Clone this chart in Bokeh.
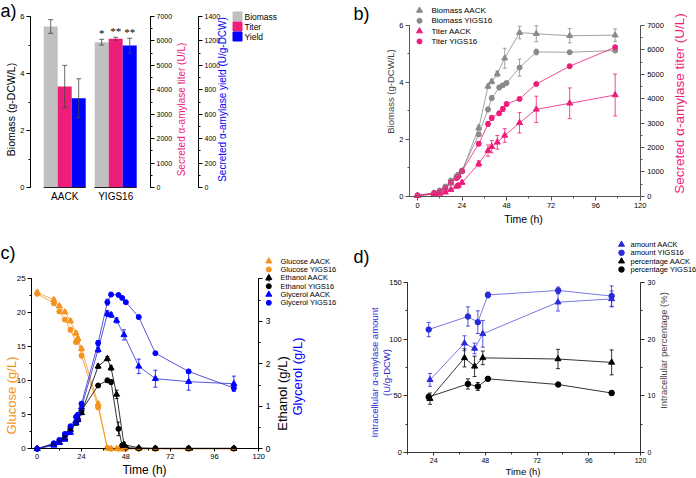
import numpy as np
from bokeh.plotting import figure
from bokeh.models import (Range1d, LinearAxis, Whisker, TeeHead, ColumnDataSource,
                          FixedTicker, SingleIntervalTicker, Label)
from bokeh.layouts import row, column
from bokeh.embed import file_html
from bokeh.resources import INLINE

FONT = "Liberation Sans"
BARGREY = "#c0c0c0"
GREY = "#8a8a8a"
PINK = "#ee1d7a"
BLUE = "#0000ff"
ORANGE = "#f5931e"
DBLUE = "#2b2bd6"

# ---------------- panel a data ----------------
a_groups = ["AACK", "YIGS16"]
a_biomass = [5.65, 5.10]
a_biomass_err = [0.24, 0.10]
a_titer = [4135, 6090]
a_titer_err = [865, 60]
a_yield = [731, 1162]
a_yield_err = [159, 60]
a_sig_biomass = ["", "*"]
a_sig_titer = ["", "**"]
a_sig_yield = ["", "**"]

# ---------------- panel b data ----------------
b_t_aack = [0, 9, 12, 15, 18, 21, 22, 24, 33, 38, 40, 43, 47, 55, 64, 82, 106.5]
b_bio_aack = [0.02, 0.08, 0.12, 0.28, 0.45, 0.66, 0.72, 0.88, 2.40, 3.86, 4.03, 4.30, 4.85, 5.75, 5.71, 5.64, 5.66]
b_bio_aack_err = [0.02, 0.02, 0.03, 0.03, 0.04, 0.04, 0.05, 0.05, 0.10, 0.08, 0.08, 0.10, 0.35, 0.22, 0.28, 0.25, 0.22]
b_tit_aack = [20, 90, 110, 160, 270, 400, 440, 560, 1330, 1870, 2030, 2210, 2490, 3010, 3560, 3810, 4150]
b_tit_aack_err = [10, 20, 30, 40, 50, 60, 60, 70, 120, 230, 250, 280, 280, 420, 540, 630, 860]
b_t_yigs = [0, 9, 12, 15, 18, 21, 22, 24, 33, 38, 40, 44, 46, 48, 55, 64, 82, 106.5]
b_bio_yigs = [0.03, 0.12, 0.20, 0.34, 0.55, 0.70, 0.76, 0.90, 2.17, 3.05, 3.45, 3.82, 3.90, 3.98, 4.52, 5.07, 5.06, 5.12]
b_bio_yigs_err = [0.02, 0.02, 0.03, 0.03, 0.04, 0.04, 0.05, 0.05, 0.06, 0.08, 0.08, 0.08, 0.06, 0.06, 0.30, 0.10, 0.05, 0.07]
b_tit_yigs = [30, 130, 200, 340, 570, 740, 820, 1030, 2150, 2960, 3210, 3400, 3580, 3780, 3990, 4600, 5330, 6110]
b_tit_yigs_err = [10, 30, 40, 50, 60, 60, 60, 70, 80, 100, 100, 80, 100, 80, 60, 50, 50, 60]

# ---------------- panel c data ----------------
c_t_aack = [0, 9, 12, 15, 18, 21, 22, 24, 33, 38, 40, 43, 47, 55, 64, 82, 106.5]
c_glc_aack = [23.0, 21.9, 21.0, 20.1, 18.8, 17.0, 16.2, 14.7, 6.6, 0.1, 0.0, 0.0, 0.0, 0.0, 0.0, 0.0, 0.0]
c_glc_aack_err = [0.3, 0.3, 0.2, 0.2, 0.3, 0.3, 0.3, 0.3, 0.3, 0.1, 0.0, 0.0, 0.0, 0.0, 0.0, 0.0, 0.0]
c_eth_aack = [0.0, 0.10, 0.15, 0.25, 0.45, 0.60, 0.68, 0.85, 1.94, 2.12, 1.90, 1.28, 0.10, 0.02, 0.01, 0.01, 0.01]
c_eth_aack_err = [0, 0.02, 0.02, 0.03, 0.03, 0.04, 0.04, 0.05, 0.05, 0.05, 0.05, 0.10, 0.05, 0.0, 0.0, 0.0, 0.0]
c_gly_aack = [0.0, 0.08, 0.14, 0.22, 0.38, 0.62, 0.70, 0.98, 2.33, 3.18, 3.15, 3.02, 2.68, 1.94, 1.65, 1.58, 1.53]
c_gly_aack_err = [0, 0.02, 0.02, 0.03, 0.03, 0.04, 0.04, 0.05, 0.06, 0.07, 0.06, 0.06, 0.12, 0.17, 0.20, 0.20, 0.18]
c_t_yigs = [0, 9, 12, 15, 18, 21, 22, 24, 33, 38, 40, 44, 46, 48, 55, 64, 82, 106.5]
c_glc_yigs = [22.8, 21.4, 20.2, 19.0, 17.5, 15.7, 16.0, 13.7, 6.1, 0.1, 0.0, 0.0, 0.0, 0.0, 0.0, 0.0, 0.0, 0.0]
c_glc_yigs_err = [0.3, 0.3, 0.2, 0.2, 0.3, 0.3, 0.3, 0.3, 0.3, 0.1, 0.0, 0.0, 0.0, 0.0, 0.0, 0.0, 0.0, 0.0]
c_eth_yigs = [0.0, 0.12, 0.18, 0.30, 0.48, 0.62, 0.70, 0.90, 1.49, 1.61, 1.57, 0.47, 0.08, 0.03, 0.01, 0.01, 0.01, 0.01]
c_eth_yigs_err = [0, 0.02, 0.02, 0.03, 0.03, 0.04, 0.04, 0.05, 0.04, 0.05, 0.05, 0.16, 0.03, 0.0, 0.0, 0.0, 0.0, 0.0]
c_gly_yigs = [0.0, 0.13, 0.21, 0.35, 0.53, 0.75, 0.80, 1.06, 2.49, 3.45, 3.63, 3.62, 3.55, 3.45, 3.10, 2.25, 1.82, 1.43]
c_gly_yigs_err = [0, 0.02, 0.02, 0.03, 0.03, 0.04, 0.04, 0.05, 0.06, 0.07, 0.05, 0.03, 0.03, 0.03, 0.04, 0.03, 0.03, 0.06]

# ---------------- panel d data ----------------
d_t_aack = [22.3, 38.3, 43.0, 46.8, 81.7, 106.6]
d_amt_aack = [64.1, 96.4, 91.8, 104.7, 132.6, 135.5]
d_amt_aack_err = [5.7, 6.6, 4.7, 11.8, 7.8, 7.0]
d_pct_aack = [9.5, 16.7, 15.2, 16.7, 16.5, 15.9]
d_pct_aack_err = [1.0, 1.6, 1.8, 1.2, 1.7, 2.2]
d_t_yigs = [21.7, 39.9, 44.5, 49.2, 81.8, 106.6]
d_amt_yigs = [108.5, 120.0, 115.0, 139.0, 143.0, 138.0]
d_amt_yigs_err = [6.3, 8.5, 10.0, 2.5, 3.0, 9.0]
d_pct_yigs = [9.8, 12.1, 11.65, 13.0, 12.0, 10.5]
d_pct_yigs_err = [0.5, 0.9, 0.7, 0.3, 0.2, 0.4]

panel_letters = ["a)", "b)", "c)", "d)"]

W = 348
H = 239


class Map:
    """Linear map from a pixel position in the figure to a data value."""
    def __init__(self, v0, p0, v1, p1):
        self.v0, self.p0, self.s = v0, p0, (v1 - v0) / (p1 - p0)

    def __call__(self, px):
        return self.v0 + (px - self.p0) * self.s


def xr(m):
    return Range1d(m(0), m(W))


def yr(m):
    return Range1d(m(H), m(0))


def src(x, y, e, **extra):
    x = np.asarray(x, float)
    y = np.asarray(y, float)
    e = np.asarray(e, float)
    d = dict(x=x, y=y, lo=y - e, hi=y + e)
    d.update(extra)
    return ColumnDataSource(d)


def add_err(p, s, color, yname="default", cap=4, width=0.8):
    w = Whisker(source=s, base="x", lower="lo", upper="hi", line_color=color, line_width=width,
                upper_head=TeeHead(size=cap, line_color=color, line_width=width),
                lower_head=TeeHead(size=cap, line_color=color, line_width=width),
                level="overlay", y_range_name=yname)
    p.add_layout(w)


def style_axis(ax, fs="7.5px", col="black", tick_out=4, minor_out=2, standoff=2):
    ax.major_label_text_font = FONT
    ax.major_label_text_font_size = fs
    ax.major_label_text_color = "black"
    ax.axis_line_color = col
    ax.axis_line_width = 1
    ax.major_tick_line_color = col
    ax.minor_tick_line_color = col
    ax.major_tick_in = 0
    ax.major_tick_out = tick_out
    ax.minor_tick_in = 0
    ax.minor_tick_out = minor_out
    ax.major_label_standoff = standoff


def base_fig(xrange_, yrange_):
    p = figure(width=W, height=H, output_backend="svg", toolbar_location=None, title=None,
               x_range=xrange_, y_range=yrange_, min_border=0)
    p.min_border_left = p.min_border_right = p.min_border_top = p.min_border_bottom = 0
    p.outline_line_color = None
    p.xgrid.visible = False
    p.ygrid.visible = False
    p.background_fill_color = "white"
    p.border_fill_color = "white"
    return p


def set_axis(ax, loc, bounds, ticker, **kw):
    ax.fixed_location = loc
    ax.bounds = bounds
    ax.ticker = ticker
    style_axis(ax, **kw)


def new_axis(p, side, yname, loc, bounds, ticker, **kw):
    ax = LinearAxis(y_range_name=yname)
    set_axis(ax, loc, bounds, ticker, **kw)
    p.add_layout(ax, side)
    return ax


def text(p, s, fx, fy, size, color="black", vertical=False, align="center", baseline="middle"):
    p.add_layout(Label(x=fx, y=H - fy, x_units="screen", y_units="screen", text=s,
                       angle=(np.pi / 2 if vertical else 0), text_font=FONT,
                       text_font_size=size, text_color=color, text_align=align,
                       text_baseline=baseline))


def key(p, entries, gx, tx, rows, fs, mx, my):
    """Legend drawn as a marker plus a text per entry, at figure pixel positions."""
    for (label, marker, color, size), py in zip(entries, rows):
        p.scatter(x=[mx(gx)], y=[my(py)], marker=marker, size=size, fill_color=color, line_color=color)
        text(p, label, tx, py, fs, align="left")


def series(p, t, y, e, color, marker, size, yname="default", lw=0.8, cap=4, lcolor=None):
    s = src(t, y, e)
    p.line("x", "y", source=s, line_color=lcolor or color, line_width=lw, y_range_name=yname)
    add_err(p, s, color, yname, cap)
    return p.scatter("x", "y", source=s, marker=marker, size=size, fill_color=color,
                     line_color=color, y_range_name=yname)


# ================= panel a =================
mxa = Map(0, 64.2, 1, 115.2)          # group index -> pixel
mya = Map(0, 187, 6, 16)
mta = Map(0, 187, 7000, 16)
mya2 = Map(0, 187, 1400, 16)
pa = base_fig(xr(mxa), yr(mya))
pa.extra_y_ranges = {"titer": yr(mta), "yield": yr(mya2)}
xi = np.arange(len(a_groups))
bw = 14 * mxa.s
s_bio = src(xi - bw, a_biomass, a_biomass_err, sig=a_sig_biomass)
s_tit = src(xi, a_titer, a_titer_err, sig=a_sig_titer)
s_yld = src(xi + bw, a_yield, a_yield_err, sig=a_sig_yield)
pa.vbar(x="x", top="y", width=bw, source=s_bio, fill_color=BARGREY, line_color=None)
pa.vbar(x="x", top="y", width=bw, source=s_tit, fill_color=PINK, line_color=None, y_range_name="titer")
pa.vbar(x="x", top="y", width=bw, source=s_yld, fill_color=BLUE, line_color=None, y_range_name="yield")
# dark base line under each group of bars
pa.segment(x0=xi - 1.5 * bw, x1=xi + 1.5 * bw, y0=np.zeros(len(xi)), y1=np.zeros(len(xi)),
           line_color="#222222", line_width=1.2)
for s, yn in ((s_bio, "default"), (s_tit, "titer"), (s_yld, "yield")):
    add_err(pa, s, "#444444", yn, cap=5)
    pa.text(x="x", y="hi", text="sig", source=s, y_range_name=yn, text_align="center",
            text_baseline="bottom", text_font=FONT, text_font_size="11px", text_color="black")
set_axis(pa.left[0], mxa(30), (0, 6), SingleIntervalTicker(interval=2, num_minor_ticks=2), fs="7.5px")
bx = pa.below[0]
set_axis(bx, 0, (mxa(30), mxa(150)), FixedTicker(ticks=[int(i) for i in xi]), fs="10px",
         tick_out=0, minor_out=0, standoff=3)
bx.major_label_overrides = {int(i): g for i, g in enumerate(a_groups)}
bx.major_tick_line_color = None
bx.minor_tick_line_color = None
bx.axis_line_color = None
new_axis(pa, "right", "titer", mxa(150), (0, 7000), SingleIntervalTicker(interval=1000, num_minor_ticks=2), fs="7px")
new_axis(pa, "right", "yield", mxa(198), (0, 1400), SingleIntervalTicker(interval=200, num_minor_ticks=2), fs="7px")
text(pa, "Biomass (g-DCW/L)", 10, 109, "10.5px", vertical=True)
text(pa, "Secreted α-amylase titer (U/L)", 181, 109, "10px", PINK, vertical=True)
text(pa, "Secreted α-amylase yield (U/g-DCW)", 222, 99, "10px", BLUE, vertical=True)
key(pa, [("Biomass", "square", BARGREY, 9), ("Titer", "square", PINK, 9), ("Yield", "square", BLUE, 9)],
    237, 244, [16, 26, 36], "8.5px", mxa, mya)
text(pa, panel_letters[0], 0, 0, "18px", align="left", baseline="top")

# ================= panel b =================
mxb = Map(0, 69, 120, 291.7)
myb = Map(0, 195.7, 6, 25)
mtb = Map(0, 195.7, 7000, 25)
pb = base_fig(xr(mxb), yr(myb))
pb.extra_y_ranges = {"titer": yr(mtb)}
series(pb, b_t_aack, b_bio_aack, b_bio_aack_err, GREY, "triangle", 6)
series(pb, b_t_yigs, b_bio_yigs, b_bio_yigs_err, GREY, "circle", 5)
series(pb, b_t_aack, b_tit_aack, b_tit_aack_err, PINK, "triangle", 6, "titer")
series(pb, b_t_yigs, b_tit_yigs, b_tit_yigs_err, PINK, "circle", 5, "titer")
set_axis(pb.left[0], mxb(61), (0, 6), SingleIntervalTicker(interval=2, num_minor_ticks=2), fs="7.5px", col="#555555")
set_axis(pb.below[0], 0, (mxb(61), 120), SingleIntervalTicker(interval=24, num_minor_ticks=2), fs="7.5px",
         col="#555555", standoff=3)
new_axis(pb, "right", "titer", 120, (0, 7000), SingleIntervalTicker(interval=1000, num_minor_ticks=2),
         fs="7.5px", col="#555555", standoff=3)
text(pb, "Biomass (g-DCW/L)", 42, 91, "9.5px", "#444444", vertical=True)
text(pb, "Time (h)", 175, 218, "10.5px")
text(pb, "Secreted α-amylase titer (U/L)", 331, 103, "13.5px", PINK, vertical=True)
key(pb, [("Biomass AACK", "triangle", GREY, 6), ("Biomass YIGS16", "circle", GREY, 5),
         ("Titer AACK", "triangle", PINK, 6), ("Titer YIGS16", "circle", PINK, 5)],
    71, 83, [10, 20.3, 30.6, 40.9], "8px", mxb, myb)
text(pb, panel_letters[1], 5, 3, "18px", align="left", baseline="top")

# ================= panel c =================
mxc = Map(0, 36.7, 120, 258.3)
myc = Map(0, 209.3, 25, 39.3)
mec = Map(0, 209.3, 4, 39.3)
pc = base_fig(xr(mxc), yr(myc))
pc.extra_y_ranges = {"eg": yr(mec)}
series(pc, c_t_aack, c_glc_aack, c_glc_aack_err, ORANGE, "triangle", 6)
series(pc, c_t_yigs, c_glc_yigs, c_glc_yigs_err, ORANGE, "circle", 5)
series(pc, c_t_aack, c_eth_aack, c_eth_aack_err, "black", "triangle", 6, "eg")
series(pc, c_t_yigs, c_eth_yigs, c_eth_yigs_err, "black", "circle", 5, "eg")
series(pc, c_t_aack, c_gly_aack, c_gly_aack_err, BLUE, "triangle", 6, "eg", lcolor=DBLUE)
series(pc, c_t_yigs, c_gly_yigs, c_gly_yigs_err, BLUE, "circle", 5, "eg", lcolor=DBLUE)
set_axis(pc.left[0], mxc(31.2), (0, 25), SingleIntervalTicker(interval=5, num_minor_ticks=2), fs="8px")
set_axis(pc.below[0], 0, (mxc(31.2), 120), SingleIntervalTicker(interval=24, num_minor_ticks=2), fs="7.5px",
         tick_out=3, standoff=2)
new_axis(pc, "right", "eg", 120, (0, 4), SingleIntervalTicker(interval=1, num_minor_ticks=2), fs="8.5px", standoff=3)
text(pc, "Glucose (g/L)", 11, 156, "13px", ORANGE, vertical=True)
text(pc, "Ethanol (g/L)", 281.5, 154, "13px", "black", vertical=True)
text(pc, "Glycerol (g/L)", 296.5, 137, "13px", BLUE, vertical=True)
text(pc, "Time (h)", 144, 230, "12px")
key(pc, [("Glucose AACK", "triangle", ORANGE, 6), ("Glucose YIGS16", "circle", ORANGE, 5),
         ("Ethanol AACK", "triangle", "black", 6), ("Ethanol YIGS16", "circle", "black", 5),
         ("Glycerol AACK", "triangle", BLUE, 6), ("Glycerol YIGS16", "circle", BLUE, 5)],
    268.3, 280, [21.7, 30, 38.3, 46.7, 55, 63.3], "7.5px", mxc, myc)
text(pc, panel_letters[2], 0, 3, "18px", align="left", baseline="top")

# ================= panel d =================
mxd = Map(12, 59.3, 120, 292)
myd = Map(0, 213, 150, 43)
mpd = Map(0, 213, 30, 43)
pd_ = base_fig(xr(mxd), yr(myd))
pd_.extra_y_ranges = {"pct": yr(mpd)}
series(pd_, d_t_aack, d_amt_aack, d_amt_aack_err, DBLUE, "triangle", 6, lcolor="#5555e0")
series(pd_, d_t_yigs, d_amt_yigs, d_amt_yigs_err, DBLUE, "circle", 5.5, lcolor="#5555e0")
series(pd_, d_t_aack, d_pct_aack, d_pct_aack_err, "black", "triangle", 6, "pct")
series(pd_, d_t_yigs, d_pct_yigs, d_pct_yigs_err, "black", "circle", 5.5, "pct")
set_axis(pd_.left[0], 12, (0, 150), SingleIntervalTicker(interval=50, num_minor_ticks=2), fs="7.5px", col="#333333")
set_axis(pd_.below[0], 0, (12, 120), SingleIntervalTicker(interval=24, num_minor_ticks=2), fs="7px",
         col="#333333", tick_out=3, standoff=2)
new_axis(pd_, "right", "pct", 120, (0, 30), SingleIntervalTicker(interval=10, num_minor_ticks=2),
         fs="7px", col="#333333", standoff=3)
text(pd_, "Intracellular α-amylase amount", 25.5, 133, "9.5px", DBLUE, vertical=True)
text(pd_, "(U/g-DCW)", 37.5, 133, "9.5px", DBLUE, vertical=True)
text(pd_, "Intracellular percentage (%)", 315, 111, "9.5px", "#444444", vertical=True)
text(pd_, "Time (h)", 174.5, 232, "9.5px")
key(pd_, [("amount AACK", "triangle", DBLUE, 6), ("amount YIGS16", "circle", DBLUE, 5.5),
          ("percentage AACK", "triangle", "black", 6), ("percentage YIGS16", "circle", "black", 5.5)],
    273, 282, [5, 13.3, 21.7, 30], "7.5px", mxd, myd)
text(pd_, panel_letters[3], 5, 7, "18px", align="left", baseline="top")

layout = column(row(pa, pb), row(pc, pd_))
open("out.html", "w").write(file_html(layout, INLINE))
